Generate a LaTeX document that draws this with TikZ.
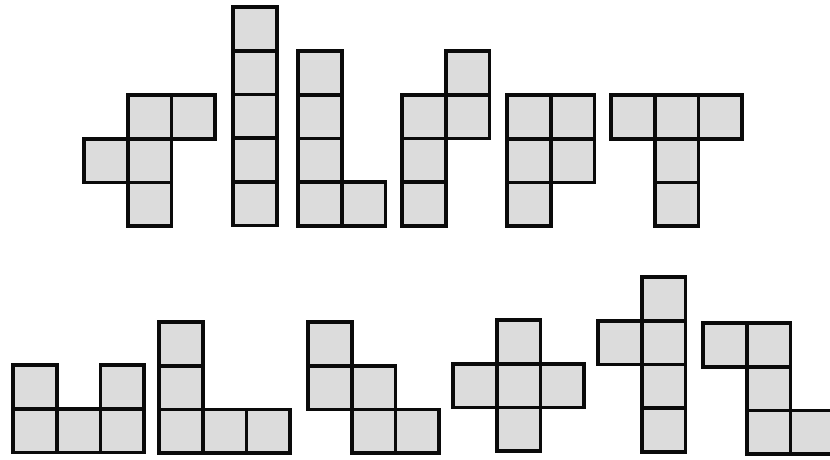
\documentclass[tikz,border=0pt]{standalone}
\usepackage{tikz}
\definecolor{pcFill}{RGB}{220,220,220}
\definecolor{pcLine}{RGB}{10,10,10}

\begin{document}
\begin{tikzpicture}[
  x=0.03cm, y=-0.03cm,
  cell/.style={draw=pcLine, fill=pcFill, line width=3.2pt},
]
\useasboundingbox (0,0) rectangle (830,460);
\def\csize{43.7}
% \piece{origin x}{origin y}{list of col/row}
\newcommand{\piece}[3]{%
  \foreach \c/\r in {#3}
    \draw[cell] ({#1+\c*\csize},{#2+\r*\csize}) rectangle ++(\csize,\csize);
}
% top row
\piece{84}{95}{1/0,2/0,0/1,1/1,1/2}      % F
\piece{233}{7}{0/0,0/1,0/2,0/3,0/4}      % I
\piece{298}{51}{0/0,0/1,0/2,0/3,1/3}     % L
\piece{402}{51}{1/0,0/1,1/1,0/2,0/3}     % N
\piece{507}{95}{0/0,1/0,0/1,1/1,0/2}     % P
\piece{611}{95}{0/0,1/0,2/0,1/1,1/2}     % T
% bottom row
\piece{13}{365}{0/0,2/0,0/1,1/1,2/1}     % U
\piece{159}{322}{0/0,0/1,0/2,1/2,2/2}    % V
\piece{308}{322}{0/0,0/1,1/1,1/2,2/2}    % W
\piece{453}{320}{1/0,0/1,1/1,2/1,1/2}    % X
\piece{598}{277}{1/0,0/1,1/1,1/2,1/3}    % Y
\piece{703}{323}{0/0,1/0,1/1,1/2,2/2}    % Z
\end{tikzpicture}
\end{document}
